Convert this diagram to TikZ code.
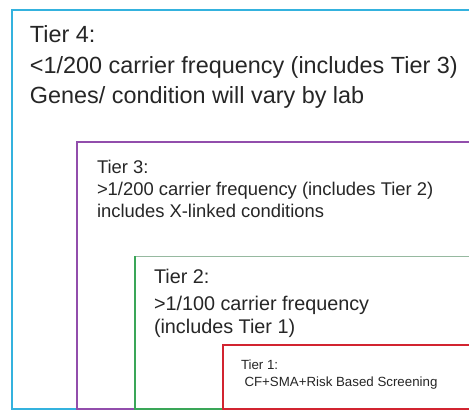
\documentclass[tikz,border=0pt]{standalone}
\usepackage{fontspec}
\setmainfont{Liberation Sans}
\definecolor{tcyan}{RGB}{52,178,222}
\definecolor{tpurple}{RGB}{146,78,172}
\definecolor{tgreen}{RGB}{58,166,88}
\definecolor{tgreenlt}{RGB}{150,185,160}
\definecolor{tred}{RGB}{210,36,48}
\begin{document}
\begin{tikzpicture}[x=1pt,y=-1pt,
  boxline/.style={line width=2pt},
  txt/.style={anchor=base west,inner sep=0pt,outer sep=0pt,text=black!85},
  tfour/.style={txt,font=\fontsize{23.4}{26}\selectfont},
  tthree/.style={txt,font=\fontsize{18.4}{21}\selectfont},
  ttwo/.style={txt,font=\fontsize{19.8}{23}\selectfont},
  tone/.style={txt,font=\fontsize{13.3}{16}\selectfont}]
\useasboundingbox (0,0) rectangle (469,410);
\fill[white] (0,0) rectangle (469,410);
\clip (0,0) rectangle (469,410);
% boxes
\draw[boxline,tcyan] (12,10) rectangle (520,408.5);
\draw[boxline,tpurple] (76.5,142) rectangle (520,408.5);
\draw[line width=1pt,tgreenlt] (135,256) -- (520,256);
\draw[boxline,tgreen] (520,408.5) -- (135,408.5) -- (135,256);
\draw[boxline,tred] (222.5,345) rectangle (520,408.5);
% Tier 4
\node[tfour] (t4a) at (30,42) {Tier 4:};
\node[tfour] (t4b) at (30,73) {<1/200 carrier frequency (includes Tier 3)};
\node[tfour] (t4c) at (30,103) {Genes/ condition will vary by lab};
% Tier 3
\node[tthree] (t3a) at (97,173) {Tier 3:};
\node[tthree] (t3b) at (97,195.5) {>1/200 carrier frequency (includes Tier 2)};
\node[tthree] (t3c) at (97,217) {includes X-linked conditions};
% Tier 2
\node[ttwo] (t2a) at (154,283.5) {Tier 2:};
\node[ttwo] (t2b) at (154,310) {>1/100 carrier frequency};
\node[ttwo] (t2c) at (154,333) {(includes Tier 1)};
% Tier 1
\node[tone] (t1a) at (241,369.5) {Tier 1:};
\node[tone] (t1b) at (244.5,386) {CF+SMA+Risk Based Screening};
\end{tikzpicture}
\end{document}
